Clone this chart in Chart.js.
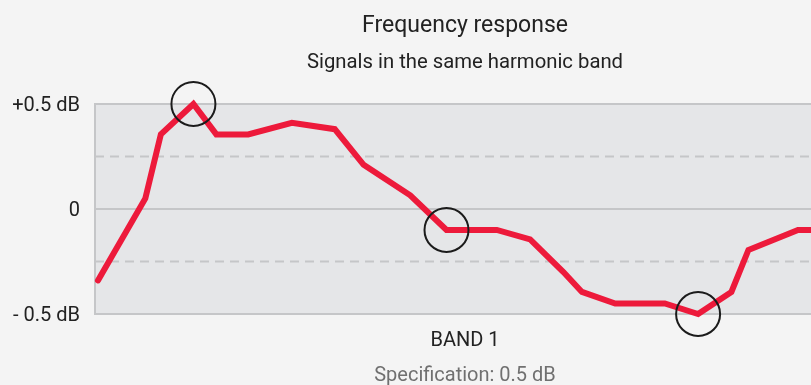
<!DOCTYPE html>
<html lang="en">

<head>
    <meta charset="UTF-8" />
    <title>Frequency response</title>
    <style>
        html, body { margin: 0; padding: 0; background: #f4f4f4; overflow: hidden; }
        #wrap { width: 835px; height: 385px; }
    </style>
</head>

<body>
    <div id="wrap">
        <canvas id="myChart" width="835" height="385"></canvas>
    </div>

    <script src="https://cdn.jsdelivr.net/npm/chart.js"></script>
    <script>
        // response curve: position across the band (0..100) and deviation in dB
        const bandPos = [0.4, 6.8, 8.9, 13.3, 16.4, 20.7, 26.6, 32.4, 36.3, 42.6, 47.5,
            54.3, 58.8, 63.3, 65.8, 70.3, 77.0, 81.5, 86.0, 88.3, 95.0, 100];
        const deviation = [-0.34, 0.05, 0.355, 0.5, 0.355, 0.355, 0.41, 0.38, 0.21, 0.065, -0.1,
            -0.1, -0.145, -0.3, -0.395, -0.45, -0.45, -0.5, -0.395, -0.195, -0.1, -0.1];

        // points that get a ring around them (max, mid, min)
        const markedIdx = [3, 10, 17];

        // dashed quarter-spec levels
        const dashedLevels = [-0.25, 0.25];

        const yTickValues = [-0.5, 0, 0.5];
        const yTickLabels = ['- 0.5 dB', '0', '+0.5 dB'];

        const titleText = 'Frequency response';
        const subtitleText = 'Signals in the same harmonic band';
        const bandLabel = 'BAND 1';
        const specText = 'Specification: 0.5 dB';

        const curve = bandPos.map((x, i) => ({ x: x, y: deviation[i] }));
        const rings = markedIdx.map(i => ({ x: bandPos[i], y: deviation[i] }));

        const datasets = [];
        dashedLevels.forEach(lv => {
            datasets.push({
                data: [{ x: 0, y: lv }, { x: 100, y: lv }],
                borderColor: '#c5c6c8',
                borderWidth: 2,
                borderDash: [9, 6],
                pointRadius: 0,
                order: 3
            });
        });
        datasets.push({
            data: curve,
            borderColor: '#ed1a3b',
            borderWidth: 6,
            borderJoinStyle: 'miter',
            borderCapStyle: 'round',
            pointRadius: 0,
            clip: false,
            order: 2
        });
        datasets.push({
            data: rings,
            showLine: false,
            pointRadius: 22,
            pointBorderWidth: 2,
            pointBorderColor: '#1b1b1b',
            pointBackgroundColor: 'rgba(0,0,0,0)',
            clip: false,
            order: 1
        });

        // grey plot area + spec note under the axis title
        const plotBg = {
            id: 'plotBg',
            beforeDraw(chart) {
                const { ctx, chartArea: a } = chart;
                ctx.save();
                ctx.fillStyle = '#e5e6e8';
                ctx.fillRect(a.left, a.top, a.right - a.left, a.bottom - a.top);
                ctx.restore();
            },
            afterDraw(chart) {
                const { ctx, chartArea: a } = chart;
                ctx.save();
                ctx.font = '20px Roboto';
                ctx.fillStyle = '#707070';
                ctx.textAlign = 'center';
                ctx.textBaseline = 'middle';
                ctx.fillText(specText, (a.left + a.right) / 2, chart.height - 9);
                ctx.restore();
            }
        };

        Chart.defaults.font.family = 'Roboto';
        Chart.defaults.color = '#222';

        const config = {
            type: 'line',
            data: { datasets: datasets },
            options: {
                responsive: false,
                animation: false,
                layout: { autoPadding: false, padding: { left: 0, right: 0, top: 0, bottom: 32 } },
                plugins: {
                    legend: { display: false },
                    tooltip: { enabled: false },
                    title: {
                        display: true,
                        fullSize: false,
                        text: titleText,
                        color: '#222',
                        font: { size: 23, weight: 'normal' },
                        padding: { top: 12, bottom: 6 }
                    },
                    subtitle: {
                        display: true,
                        fullSize: false,
                        text: subtitleText,
                        color: '#222',
                        font: { size: 20.3, weight: 'normal' },
                        padding: { top: 5, bottom: 29 }
                    }
                },
                scales: {
                    x: {
                        type: 'linear',
                        min: 0,
                        max: 100,
                        grid: { display: false, drawTicks: false },
                        border: { display: false },
                        ticks: { display: false },
                        title: {
                            display: true,
                            text: bandLabel,
                            color: '#222',
                            font: { size: 20 },
                            padding: { top: 15, bottom: 0 }
                        }
                    },
                    y: {
                        min: -0.5,
                        max: 0.5,
                        afterFit(scale) { scale.width = 95; },
                        grid: { color: '#c5c6c8', lineWidth: 2, drawTicks: false },
                        border: { color: '#c5c6c8', width: 2 },
                        ticks: {
                            stepSize: 0.5,
                            padding: 15,
                            labelOffset: 2,
                            color: '#222',
                            font: { size: 20 },
                            callback: v => {
                                const i = yTickValues.indexOf(v);
                                return i >= 0 ? yTickLabels[i] : '';
                            }
                        }
                    }
                }
            },
            plugins: [plotBg]
        };

        const myChart = new Chart(document.getElementById('myChart'), config);
    </script>
</body>

</html>
